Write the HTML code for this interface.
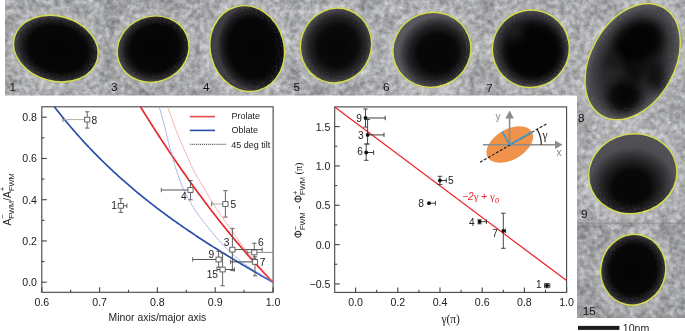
<!DOCTYPE html>
<html><head><meta charset="utf-8"><style>html,body{margin:0;padding:0;background:#fff;overflow:hidden}svg{display:block}</style></head>
<body><svg width="685" height="331" viewBox="0 0 685 331"><defs><filter id="tex" x="0" y="0" width="685" height="331" filterUnits="userSpaceOnUse" color-interpolation-filters="sRGB">
<feTurbulence type="fractalNoise" baseFrequency="0.2" numOctaves="4" seed="5" result="t"/>
<feColorMatrix type="matrix" in="t" result="g" values="0.42 0 0 0 0.475  0.42 0 0 0 0.48  0.42 0 0 0 0.49  0 0 0 0 1"/>
<feTurbulence type="fractalNoise" baseFrequency="0.05" numOctaves="2" seed="9" result="t2"/>
<feColorMatrix type="matrix" in="t2" result="g2" values="0 0 0 0 0  0 0 0 0 0  0 0 0 0 0  0.35 0 0 0 -0.12"/>
<feComposite in="g2" in2="g" operator="over" result="c"/>
<feGaussianBlur in="c" stdDeviation="0.5"/>
</filter><filter id="hb" x="-20%" y="-20%" width="140%" height="140%" color-interpolation-filters="sRGB"><feGaussianBlur stdDeviation="2.2"/></filter><clipPath id="micro"><rect x="5" y="0" width="572" height="95.5"/><rect x="577" y="0" width="108" height="318"/></clipPath><radialGradient id="g1" cx="0.53" cy="0.5" r="0.5" fx="0.53" fy="0.5"><stop offset="0" stop-color="#040404"/><stop offset="0.7" stop-color="#070707"/><stop offset="0.86" stop-color="#1a1a1c"/><stop offset="0.95" stop-color="#2c2c30"/><stop offset="1" stop-color="#3a3a40"/></radialGradient><radialGradient id="g3" cx="0.54" cy="0.5" r="0.5" fx="0.54" fy="0.5"><stop offset="0" stop-color="#040404"/><stop offset="0.7" stop-color="#070707"/><stop offset="0.86" stop-color="#1a1a1c"/><stop offset="0.95" stop-color="#2c2c30"/><stop offset="1" stop-color="#3a3a40"/></radialGradient><radialGradient id="g4" cx="0.52" cy="0.4" r="0.5" fx="0.52" fy="0.4"><stop offset="0" stop-color="#040404"/><stop offset="0.7" stop-color="#070707"/><stop offset="0.86" stop-color="#1a1a1c"/><stop offset="0.95" stop-color="#2c2c30"/><stop offset="1" stop-color="#3a3a40"/></radialGradient><radialGradient id="g5" cx="0.5" cy="0.52" r="0.5" fx="0.5" fy="0.52"><stop offset="0" stop-color="#050505"/><stop offset="0.55" stop-color="#0a0a0a"/><stop offset="0.8" stop-color="#242426"/><stop offset="0.95" stop-color="#3e3e42"/><stop offset="1" stop-color="#4c4c52"/></radialGradient><radialGradient id="g6" cx="0.55" cy="0.57" r="0.5" fx="0.55" fy="0.57"><stop offset="0" stop-color="#050505"/><stop offset="0.5" stop-color="#080808"/><stop offset="0.72" stop-color="#202022"/><stop offset="0.88" stop-color="#3c3c40"/><stop offset="1" stop-color="#56565c"/></radialGradient><radialGradient id="g7" cx="0.5" cy="0.5" r="0.5" fx="0.5" fy="0.5"><stop offset="0" stop-color="#141416"/><stop offset="0.6" stop-color="#1c1c1e"/><stop offset="0.86" stop-color="#323236"/><stop offset="1" stop-color="#48484e"/></radialGradient><radialGradient id="g8" cx="0.5" cy="0.5" r="0.5" fx="0.5" fy="0.5"><stop offset="0" stop-color="#262628"/><stop offset="0.6" stop-color="#2c2c2e"/><stop offset="0.85" stop-color="#404044"/><stop offset="1" stop-color="#5a5a60"/></radialGradient><radialGradient id="g9" cx="0.45" cy="0.66" r="0.5" fx="0.45" fy="0.66"><stop offset="0" stop-color="#050505"/><stop offset="0.42" stop-color="#080808"/><stop offset="0.68" stop-color="#242426"/><stop offset="0.88" stop-color="#3e3e42"/><stop offset="1" stop-color="#4e4e54"/></radialGradient><radialGradient id="g15" cx="0.5" cy="0.5" r="0.5" fx="0.5" fy="0.5"><stop offset="0" stop-color="#040404"/><stop offset="0.7" stop-color="#070707"/><stop offset="0.86" stop-color="#1a1a1c"/><stop offset="0.95" stop-color="#2c2c30"/><stop offset="1" stop-color="#3a3a40"/></radialGradient><filter id="blot" x="0" y="0" width="685" height="331" filterUnits="userSpaceOnUse" color-interpolation-filters="sRGB">
<feTurbulence type="fractalNoise" baseFrequency="0.045" numOctaves="3" seed="21" result="t"/>
<feColorMatrix type="matrix" in="t" values="0 0 0 0 0.26  0 0 0 0 0.26  0 0 0 0 0.275  2.4 0 0 0 -1.3"/>
</filter><clipPath id="parts"><ellipse cx="632.65" cy="61.6" rx="62.2" ry="42.0" transform="rotate(-60.7 632.65 61.6)"/></clipPath><clipPath id="pc0"><ellipse cx="530.85" cy="48.7" rx="38.92" ry="38.23" transform="rotate(-55.5 530.85 48.7)"/></clipPath><filter id="bf0" filterUnits="userSpaceOnUse" x="0" y="0" width="685" height="331" color-interpolation-filters="sRGB"><feGaussianBlur stdDeviation="4"/></filter><clipPath id="pc1"><ellipse cx="530.85" cy="48.7" rx="38.92" ry="38.23" transform="rotate(-55.5 530.85 48.7)"/></clipPath><filter id="bf1" filterUnits="userSpaceOnUse" x="0" y="0" width="685" height="331" color-interpolation-filters="sRGB"><feGaussianBlur stdDeviation="5"/></filter><clipPath id="pc2"><ellipse cx="632.65" cy="61.6" rx="62.2" ry="42.0" transform="rotate(-60.7 632.65 61.6)"/></clipPath><filter id="bf2" filterUnits="userSpaceOnUse" x="0" y="0" width="685" height="331" color-interpolation-filters="sRGB"><feGaussianBlur stdDeviation="5"/></filter><clipPath id="pc3"><ellipse cx="632.65" cy="61.6" rx="62.2" ry="42.0" transform="rotate(-60.7 632.65 61.6)"/></clipPath><filter id="bf3" filterUnits="userSpaceOnUse" x="0" y="0" width="685" height="331" color-interpolation-filters="sRGB"><feGaussianBlur stdDeviation="5"/></filter><clipPath id="pc4"><ellipse cx="632.65" cy="61.6" rx="62.2" ry="42.0" transform="rotate(-60.7 632.65 61.6)"/></clipPath><filter id="bf4" filterUnits="userSpaceOnUse" x="0" y="0" width="685" height="331" color-interpolation-filters="sRGB"><feGaussianBlur stdDeviation="5"/></filter><clipPath id="pc5"><ellipse cx="632.65" cy="61.6" rx="62.2" ry="42.0" transform="rotate(-60.7 632.65 61.6)"/></clipPath><filter id="bf5" filterUnits="userSpaceOnUse" x="0" y="0" width="685" height="331" color-interpolation-filters="sRGB"><feGaussianBlur stdDeviation="4"/></filter><clipPath id="pc6"><ellipse cx="632.65" cy="61.6" rx="62.2" ry="42.0" transform="rotate(-60.7 632.65 61.6)"/></clipPath><filter id="bf6" filterUnits="userSpaceOnUse" x="0" y="0" width="685" height="331" color-interpolation-filters="sRGB"><feGaussianBlur stdDeviation="4"/></filter><filter id="grain" x="0" y="0" width="685" height="331" filterUnits="userSpaceOnUse" color-interpolation-filters="sRGB">
<feTurbulence type="fractalNoise" baseFrequency="0.5" numOctaves="2" seed="33" result="t"/>
<feColorMatrix type="matrix" in="t" result="a" values="0 0 0 0 0.45  0 0 0 0 0.45  0 0 0 0 0.47  1.3 0 0 0 -0.5"/>
<feGaussianBlur in="a" stdDeviation="0.35"/>
</filter><clipPath id="allparts"><ellipse cx="55.85" cy="48.6" rx="42.96" ry="32.5" transform="rotate(14.9 55.85 48.6)"/><ellipse cx="153.1" cy="49.15" rx="36.36" ry="32.65" transform="rotate(-21.1 153.1 49.15)"/><ellipse cx="247.2" cy="48.55" rx="43.24" ry="36.85" transform="rotate(75.2 247.2 48.55)"/><ellipse cx="336.0" cy="45.55" rx="37.67" ry="35.26" transform="rotate(-68.4 336.0 45.55)"/><ellipse cx="431.9" cy="49.8" rx="39.26" ry="37.23" transform="rotate(-21.3 431.9 49.8)"/><ellipse cx="530.85" cy="48.7" rx="38.92" ry="38.23" transform="rotate(-55.5 530.85 48.7)"/><ellipse cx="632.65" cy="61.6" rx="62.2" ry="42.0" transform="rotate(-60.7 632.65 61.6)"/><ellipse cx="632.8" cy="173.7" rx="44.31" ry="39.7" transform="rotate(-12.2 632.8 173.7)"/><ellipse cx="633.25" cy="269.75" rx="35.47" ry="32.42" transform="rotate(-78.4 633.25 269.75)"/></clipPath><radialGradient id="hm" cx="0.5" cy="0.5" r="0.5"><stop offset="0" stop-color="#000"/><stop offset="0.68" stop-color="#000"/><stop offset="0.92" stop-color="#fff"/><stop offset="1" stop-color="#fff"/></radialGradient><mask id="halomask" maskUnits="userSpaceOnUse" x="0" y="0" width="685" height="331"><rect x="0" y="0" width="685" height="331" fill="#000"/><ellipse cx="55.85" cy="48.6" rx="42.96" ry="32.5" transform="rotate(14.9 55.85 48.6)" fill="url(#hm)"/><ellipse cx="153.1" cy="49.15" rx="36.36" ry="32.65" transform="rotate(-21.1 153.1 49.15)" fill="url(#hm)"/><ellipse cx="247.2" cy="48.55" rx="43.24" ry="36.85" transform="rotate(75.2 247.2 48.55)" fill="url(#hm)"/><ellipse cx="336.0" cy="45.55" rx="37.67" ry="35.26" transform="rotate(-68.4 336.0 45.55)" fill="url(#hm)"/><ellipse cx="431.9" cy="49.8" rx="39.26" ry="37.23" transform="rotate(-21.3 431.9 49.8)" fill="url(#hm)"/><ellipse cx="530.85" cy="48.7" rx="38.92" ry="38.23" transform="rotate(-55.5 530.85 48.7)" fill="url(#hm)"/><ellipse cx="632.65" cy="61.6" rx="62.2" ry="42.0" transform="rotate(-60.7 632.65 61.6)" fill="url(#hm)"/><ellipse cx="632.8" cy="173.7" rx="44.31" ry="39.7" transform="rotate(-12.2 632.8 173.7)" fill="url(#hm)"/><ellipse cx="633.25" cy="269.75" rx="35.47" ry="32.42" transform="rotate(-78.4 633.25 269.75)" fill="url(#hm)"/></mask></defs><rect width="685" height="331" fill="#fff"/><g clip-path="url(#micro)"><rect x="0" y="0" width="685" height="331" fill="#b8b9bb" filter="url(#tex)"/></g><rect x="107.5" y="0" width="92.5" height="95.5" fill="#000" opacity="0.02"/><rect x="200" y="0" width="90" height="95.5" fill="#fff" opacity="0.07"/><rect x="380" y="0" width="101" height="95.5" fill="#fff" opacity="0.06"/><rect x="481" y="0" width="96" height="95.5" fill="#fff" opacity="0.03"/><rect x="577" y="0" width="108" height="125" fill="#fff" opacity="0.05"/><rect x="577" y="125" width="108" height="98" fill="#fff" opacity="0.05"/><rect x="577" y="223" width="108" height="95" fill="#000" opacity="0.02"/><g clip-path="url(#micro)"><g filter="url(#hb)"><ellipse cx="55.85" cy="48.6" rx="46.46" ry="36.0" transform="rotate(14.9 55.85 48.6)" fill="none" stroke="#fff" stroke-width="5" opacity="0.22"/><ellipse cx="153.1" cy="49.15" rx="39.86" ry="36.15" transform="rotate(-21.1 153.1 49.15)" fill="none" stroke="#fff" stroke-width="5" opacity="0.22"/><ellipse cx="247.2" cy="48.55" rx="46.74" ry="40.35" transform="rotate(75.2 247.2 48.55)" fill="none" stroke="#fff" stroke-width="5" opacity="0.22"/><ellipse cx="336.0" cy="45.55" rx="41.17" ry="38.76" transform="rotate(-68.4 336.0 45.55)" fill="none" stroke="#fff" stroke-width="5" opacity="0.22"/><ellipse cx="431.9" cy="49.8" rx="42.76" ry="40.73" transform="rotate(-21.3 431.9 49.8)" fill="none" stroke="#fff" stroke-width="5" opacity="0.22"/><ellipse cx="530.85" cy="48.7" rx="42.42" ry="41.73" transform="rotate(-55.5 530.85 48.7)" fill="none" stroke="#fff" stroke-width="5" opacity="0.22"/><ellipse cx="632.65" cy="61.6" rx="65.7" ry="45.5" transform="rotate(-60.7 632.65 61.6)" fill="none" stroke="#fff" stroke-width="5" opacity="0.22"/><ellipse cx="632.8" cy="173.7" rx="47.81" ry="43.2" transform="rotate(-12.2 632.8 173.7)" fill="none" stroke="#fff" stroke-width="5" opacity="0.22"/><ellipse cx="633.25" cy="269.75" rx="38.97" ry="35.92" transform="rotate(-78.4 633.25 269.75)" fill="none" stroke="#fff" stroke-width="5" opacity="0.22"/></g></g><line x1="577" y1="223" x2="685" y2="223" stroke="#777" stroke-width="1" opacity="0.5"/><ellipse cx="55.85" cy="48.6" rx="42.96" ry="32.5" transform="rotate(14.9 55.85 48.6)" fill="url(#g1)"/><ellipse cx="153.1" cy="49.15" rx="36.36" ry="32.65" transform="rotate(-21.1 153.1 49.15)" fill="url(#g3)"/><ellipse cx="247.2" cy="48.55" rx="43.24" ry="36.85" transform="rotate(75.2 247.2 48.55)" fill="url(#g4)"/><ellipse cx="336.0" cy="45.55" rx="37.67" ry="35.26" transform="rotate(-68.4 336.0 45.55)" fill="url(#g5)"/><ellipse cx="431.9" cy="49.8" rx="39.26" ry="37.23" transform="rotate(-21.3 431.9 49.8)" fill="url(#g6)"/><ellipse cx="530.85" cy="48.7" rx="38.92" ry="38.23" transform="rotate(-55.5 530.85 48.7)" fill="url(#g7)"/><ellipse cx="632.65" cy="61.6" rx="62.2" ry="42.0" transform="rotate(-60.7 632.65 61.6)" fill="url(#g8)"/><ellipse cx="632.8" cy="173.7" rx="44.31" ry="39.7" transform="rotate(-12.2 632.8 173.7)" fill="url(#g9)"/><ellipse cx="633.25" cy="269.75" rx="35.47" ry="32.42" transform="rotate(-78.4 633.25 269.75)" fill="url(#g15)"/><g clip-path="url(#parts)"><rect x="0" y="0" width="685" height="331" fill="#333" filter="url(#blot)"/></g><g clip-path="url(#pc0)"><ellipse cx="534" cy="52" rx="30" ry="29" transform="rotate(0 534 52)" fill="#040404" filter="url(#bf0)"/></g><g clip-path="url(#pc1)"><ellipse cx="514" cy="32" rx="9" ry="8" transform="rotate(0 514 32)" fill="#202022" filter="url(#bf1)"/></g><g clip-path="url(#pc2)"><ellipse cx="638" cy="44" rx="27" ry="22" transform="rotate(-40 638 44)" fill="#040404" filter="url(#bf2)"/></g><g clip-path="url(#pc3)"><ellipse cx="624" cy="96" rx="17" ry="17" transform="rotate(0 624 96)" fill="#070707" filter="url(#bf3)"/></g><g clip-path="url(#pc4)"><ellipse cx="654" cy="74" rx="10" ry="18" transform="rotate(-20 654 74)" fill="#121214" filter="url(#bf4)"/></g><g clip-path="url(#pc5)"><ellipse cx="613" cy="62" rx="9" ry="9" transform="rotate(0 613 62)" fill="#1a1a1a" filter="url(#bf5)"/></g><g clip-path="url(#pc6)"><ellipse cx="634" cy="72" rx="9" ry="12" transform="rotate(0 634 72)" fill="#0c0c0c" filter="url(#bf6)"/></g><g clip-path="url(#allparts)" mask="url(#halomask)" opacity="0.55"><rect x="0" y="0" width="685" height="331" fill="#888" filter="url(#grain)"/></g><ellipse cx="55.85" cy="48.6" rx="42.96" ry="32.5" transform="rotate(14.9 55.85 48.6)" fill="none" stroke="#d6dc4c" stroke-width="1.45"/><ellipse cx="153.1" cy="49.15" rx="36.36" ry="32.65" transform="rotate(-21.1 153.1 49.15)" fill="none" stroke="#d6dc4c" stroke-width="1.45"/><ellipse cx="247.2" cy="48.55" rx="43.24" ry="36.85" transform="rotate(75.2 247.2 48.55)" fill="none" stroke="#d6dc4c" stroke-width="1.45"/><ellipse cx="336.0" cy="45.55" rx="37.67" ry="35.26" transform="rotate(-68.4 336.0 45.55)" fill="none" stroke="#d6dc4c" stroke-width="1.45"/><ellipse cx="431.9" cy="49.8" rx="39.26" ry="37.23" transform="rotate(-21.3 431.9 49.8)" fill="none" stroke="#d6dc4c" stroke-width="1.45"/><ellipse cx="530.85" cy="48.7" rx="38.92" ry="38.23" transform="rotate(-55.5 530.85 48.7)" fill="none" stroke="#d6dc4c" stroke-width="1.45"/><ellipse cx="632.65" cy="61.6" rx="62.2" ry="42.0" transform="rotate(-60.7 632.65 61.6)" fill="none" stroke="#d6dc4c" stroke-width="1.45"/><ellipse cx="632.8" cy="173.7" rx="44.31" ry="39.7" transform="rotate(-12.2 632.8 173.7)" fill="none" stroke="#d6dc4c" stroke-width="1.45"/><ellipse cx="633.25" cy="269.75" rx="35.47" ry="32.42" transform="rotate(-78.4 633.25 269.75)" fill="none" stroke="#d6dc4c" stroke-width="1.45"/><text x="9.5" y="90.6" font-size="11.7" fill="#111" font-family="Liberation Sans, Arial, sans-serif">1</text><text x="111.0" y="90.6" font-size="11.7" fill="#111" font-family="Liberation Sans, Arial, sans-serif">3</text><text x="203.0" y="90.6" font-size="11.7" fill="#111" font-family="Liberation Sans, Arial, sans-serif">4</text><text x="293.5" y="90.6" font-size="11.7" fill="#111" font-family="Liberation Sans, Arial, sans-serif">5</text><text x="383.0" y="90.6" font-size="11.7" fill="#111" font-family="Liberation Sans, Arial, sans-serif">6</text><text x="486.2" y="91.6" font-size="11.7" fill="#111" font-family="Liberation Sans, Arial, sans-serif">7</text><text x="578.0" y="122.1" font-size="11.7" fill="#111" font-family="Liberation Sans, Arial, sans-serif">8</text><text x="581.1" y="217.7" font-size="11.7" fill="#111" font-family="Liberation Sans, Arial, sans-serif">9</text><text x="582.8" y="315.1" font-size="11.7" fill="#111" font-family="Liberation Sans, Arial, sans-serif">15</text><rect x="578" y="325.9" width="41.4" height="4" fill="#1c1c1c"/><text x="622.8" y="331.8" font-size="10.6" fill="#222" font-family="Liberation Sans, Arial, sans-serif">10nm</text><rect x="41.8" y="106.8" width="231.3" height="185.5" fill="none" stroke="#444" stroke-width="1.1"/><line x1="41.8" y1="282.20" x2="46.8" y2="282.20" stroke="#444" stroke-width="1.1"/><text x="37.0" y="286.10" font-size="10.6" fill="#222" text-anchor="end" font-family="Liberation Sans, Arial, sans-serif">0.0</text><line x1="41.8" y1="261.57" x2="44.4" y2="261.57" stroke="#444" stroke-width="1.1"/><line x1="41.8" y1="240.95" x2="46.8" y2="240.95" stroke="#444" stroke-width="1.1"/><text x="37.0" y="244.85" font-size="10.6" fill="#222" text-anchor="end" font-family="Liberation Sans, Arial, sans-serif">0.2</text><line x1="41.8" y1="220.32" x2="44.4" y2="220.32" stroke="#444" stroke-width="1.1"/><line x1="41.8" y1="199.70" x2="46.8" y2="199.70" stroke="#444" stroke-width="1.1"/><text x="37.0" y="203.60" font-size="10.6" fill="#222" text-anchor="end" font-family="Liberation Sans, Arial, sans-serif">0.4</text><line x1="41.8" y1="179.07" x2="44.4" y2="179.07" stroke="#444" stroke-width="1.1"/><line x1="41.8" y1="158.45" x2="46.8" y2="158.45" stroke="#444" stroke-width="1.1"/><text x="37.0" y="162.35" font-size="10.6" fill="#222" text-anchor="end" font-family="Liberation Sans, Arial, sans-serif">0.6</text><line x1="41.8" y1="137.82" x2="44.4" y2="137.82" stroke="#444" stroke-width="1.1"/><line x1="41.8" y1="117.20" x2="46.8" y2="117.20" stroke="#444" stroke-width="1.1"/><text x="37.0" y="121.10" font-size="10.6" fill="#222" text-anchor="end" font-family="Liberation Sans, Arial, sans-serif">0.8</text><line x1="41.80" y1="292.3" x2="41.80" y2="287.3" stroke="#444" stroke-width="1.1"/><text x="41.80" y="305.8" font-size="10.6" fill="#222" text-anchor="middle" font-family="Liberation Sans, Arial, sans-serif">0.6</text><line x1="70.70" y1="292.3" x2="70.70" y2="289.7" stroke="#444" stroke-width="1.1"/><line x1="99.60" y1="292.3" x2="99.60" y2="287.3" stroke="#444" stroke-width="1.1"/><text x="99.60" y="305.8" font-size="10.6" fill="#222" text-anchor="middle" font-family="Liberation Sans, Arial, sans-serif">0.7</text><line x1="128.50" y1="292.3" x2="128.50" y2="289.7" stroke="#444" stroke-width="1.1"/><line x1="157.40" y1="292.3" x2="157.40" y2="287.3" stroke="#444" stroke-width="1.1"/><text x="157.40" y="305.8" font-size="10.6" fill="#222" text-anchor="middle" font-family="Liberation Sans, Arial, sans-serif">0.8</text><line x1="186.30" y1="292.3" x2="186.30" y2="289.7" stroke="#444" stroke-width="1.1"/><line x1="215.20" y1="292.3" x2="215.20" y2="287.3" stroke="#444" stroke-width="1.1"/><text x="215.20" y="305.8" font-size="10.6" fill="#222" text-anchor="middle" font-family="Liberation Sans, Arial, sans-serif">0.9</text><line x1="244.10" y1="292.3" x2="244.10" y2="289.7" stroke="#444" stroke-width="1.1"/><line x1="273.00" y1="292.3" x2="273.00" y2="287.3" stroke="#444" stroke-width="1.1"/><text x="273.00" y="305.8" font-size="10.6" fill="#222" text-anchor="middle" font-family="Liberation Sans, Arial, sans-serif">1.0</text><text x="157.4" y="321.4" font-size="10.4" fill="#222" text-anchor="middle" font-family="Liberation Sans, Arial, sans-serif">Minor axis/major axis</text><text transform="translate(11.3 199.4) rotate(-90)" font-size="10.2" fill="#222" text-anchor="middle" font-family="Liberation Sans, Arial, sans-serif">A<tspan font-size="7.5" dy="-6.4">−</tspan><tspan font-size="7.5" dy="9.0" dx="-4.3">FWM</tspan><tspan dy="-2.6">/A</tspan><tspan font-size="7.5" dy="-6.4">+</tspan><tspan font-size="7.5" dy="9.0" dx="-4.3">FWM</tspan></text><clipPath id="lclip"><rect x="41.8" y="106.8" width="231.3" height="185.5"/></clipPath><g clip-path="url(#lclip)"><polyline points="41.80,89.68 42.96,91.31 44.11,92.92 45.27,94.53 46.42,96.12 47.58,97.69 48.74,99.26 49.89,100.81 51.05,102.36 52.20,103.89 53.36,105.41 54.52,106.92 55.67,108.42 56.83,109.90 57.98,111.38 59.14,112.84 60.30,114.30 61.45,115.74 62.61,117.17 63.76,118.60 64.92,120.01 66.08,121.41 67.23,122.81 68.39,124.19 69.54,125.56 70.70,126.93 71.86,128.28 73.01,129.63 74.17,130.96 75.32,132.29 76.48,133.61 77.64,134.91 78.79,136.21 79.95,137.50 81.10,138.79 82.26,140.06 83.42,141.33 84.57,142.58 85.73,143.83 86.88,145.07 88.04,146.30 89.20,147.53 90.35,148.74 91.51,149.95 92.66,151.15 93.82,152.35 94.98,153.53 96.13,154.71 97.29,155.88 98.44,157.04 99.60,158.20 100.76,159.35 101.91,160.49 103.07,161.63 104.22,162.75 105.38,163.88 106.54,164.99 107.69,166.10 108.85,167.20 110.00,168.29 111.16,169.38 112.32,170.46 113.47,171.54 114.63,172.61 115.78,173.67 116.94,174.73 118.10,175.78 119.25,176.82 120.41,177.86 121.56,178.89 122.72,179.92 123.88,180.94 125.03,181.96 126.19,182.97 127.34,183.97 128.50,184.97 129.66,185.97 130.81,186.96 131.97,187.94 133.12,188.92 134.28,189.89 135.44,190.86 136.59,191.82 137.75,192.78 138.90,193.73 140.06,194.68 141.22,195.62 142.37,196.56 143.53,197.49 144.68,198.42 145.84,199.35 147.00,200.27 148.15,201.18 149.31,202.09 150.46,203.00 151.62,203.90 152.78,204.80 153.93,205.69 155.09,206.58 156.24,207.47 157.40,208.35 158.56,209.22 159.71,210.10 160.87,210.97 162.02,211.83 163.18,212.69 164.34,213.55 165.49,214.40 166.65,215.25 167.80,216.10 168.96,216.94 170.12,217.78 171.27,218.61 172.43,219.45 173.58,220.27 174.74,221.10 175.90,221.92 177.05,222.74 178.21,223.55 179.36,224.36 180.52,225.17 181.68,225.98 182.83,226.78 183.99,227.58 185.14,228.37 186.30,229.17 187.46,229.96 188.61,230.74 189.77,231.53 190.92,232.31 192.08,233.08 193.24,233.86 194.39,234.63 195.55,235.40 196.70,236.17 197.86,236.93 199.02,237.69 200.17,238.45 201.33,239.21 202.48,239.96 203.64,240.71 204.80,241.46 205.95,242.20 207.11,242.95 208.26,243.69 209.42,244.43 210.58,245.16 211.73,245.90 212.89,246.63 214.04,247.36 215.20,248.09 216.36,248.81 217.51,249.53 218.67,250.26 219.82,250.97 220.98,251.69 222.14,252.40 223.29,253.12 224.45,253.83 225.60,254.54 226.76,255.24 227.92,255.95 229.07,256.65 230.23,257.35 231.38,258.05 232.54,258.75 233.70,259.44 234.85,260.14 236.01,260.83 237.16,261.52 238.32,262.21 239.48,262.89 240.63,263.58 241.79,264.26 242.94,264.95 244.10,265.63 245.26,266.31 246.41,266.98 247.57,267.66 248.72,268.33 249.88,269.01 251.04,269.68 252.19,270.35 253.35,271.02 254.50,271.69 255.66,272.35 256.82,273.02 257.97,273.68 259.13,274.34 260.28,275.00 261.44,275.66 262.60,276.32 263.75,276.98 264.91,277.64 266.06,278.29 267.22,278.95 268.38,279.60 269.53,280.25 270.69,280.90 271.84,281.55 273.00,282.20" fill="none" stroke="#2a4fa8" stroke-width="1.7"/><polyline points="128.50,87.04 129.22,88.25 129.94,89.45 130.67,90.66 131.39,91.86 132.11,93.06 132.83,94.26 133.56,95.45 134.28,96.64 135.00,97.83 135.72,99.02 136.45,100.21 137.17,101.39 137.89,102.57 138.61,103.75 139.34,104.93 140.06,106.10 140.78,107.27 141.50,108.44 142.23,109.61 142.95,110.78 143.67,111.94 144.39,113.10 145.12,114.26 145.84,115.41 146.56,116.56 147.28,117.71 148.01,118.86 148.73,120.01 149.45,121.15 150.18,122.29 150.90,123.43 151.62,124.57 152.34,125.70 153.06,126.83 153.79,127.96 154.51,129.09 155.23,130.22 155.95,131.34 156.68,132.46 157.40,133.58 158.12,134.69 158.84,135.80 159.57,136.92 160.29,138.02 161.01,139.13 161.74,140.23 162.46,141.33 163.18,142.43 163.90,143.53 164.62,144.62 165.35,145.72 166.07,146.81 166.79,147.89 167.52,148.98 168.24,150.06 168.96,151.14 169.68,152.22 170.41,153.29 171.13,154.37 171.85,155.44 172.57,156.51 173.30,157.57 174.02,158.64 174.74,159.70 175.46,160.76 176.19,161.81 176.91,162.87 177.63,163.92 178.35,164.97 179.08,166.02 179.80,167.06 180.52,168.11 181.24,169.15 181.97,170.18 182.69,171.22 183.41,172.25 184.13,173.28 184.86,174.31 185.58,175.34 186.30,176.36 187.02,177.38 187.75,178.40 188.47,179.42 189.19,180.44 189.91,181.45 190.64,182.46 191.36,183.46 192.08,184.47 192.80,185.47 193.53,186.47 194.25,187.47 194.97,188.47 195.69,189.46 196.41,190.45 197.14,191.44 197.86,192.43 198.58,193.41 199.31,194.39 200.03,195.37 200.75,196.35 201.47,197.32 202.19,198.30 202.92,199.27 203.64,200.23 204.36,201.20 205.09,202.16 205.81,203.12 206.53,204.08 207.25,205.04 207.97,205.99 208.70,206.94 209.42,207.89 210.14,208.84 210.87,209.78 211.59,210.72 212.31,211.66 213.03,212.60 213.75,213.53 214.48,214.47 215.20,215.40 215.92,216.32 216.64,217.25 217.37,218.17 218.09,219.09 218.81,220.01 219.53,220.93 220.26,221.84 220.98,222.75 221.70,223.66 222.43,224.57 223.15,225.47 223.87,226.37 224.59,227.27 225.31,228.17 226.04,229.07 226.76,229.96 227.48,230.85 228.20,231.74 228.93,232.62 229.65,233.50 230.37,234.39 231.10,235.26 231.82,236.14 232.54,237.01 233.26,237.88 233.99,238.75 234.71,239.62 235.43,240.49 236.15,241.35 236.88,242.21 237.60,243.06 238.32,243.92 239.04,244.77 239.76,245.62 240.49,246.47 241.21,247.32 241.93,248.16 242.66,249.00 243.38,249.84 244.10,250.67 244.82,251.51 245.55,252.34 246.27,253.17 246.99,254.00 247.71,254.82 248.44,255.64 249.16,256.46 249.88,257.28 250.60,258.10 251.33,258.91 252.05,259.72 252.77,260.53 253.49,261.33 254.22,262.14 254.94,262.94 255.66,263.74 256.38,264.53 257.11,265.33 257.83,266.12 258.55,266.91 259.27,267.69 260.00,268.48 260.72,269.26 261.44,270.04 262.16,270.82 262.89,271.59 263.61,272.37 264.33,273.14 265.05,273.90 265.78,274.67 266.50,275.43 267.22,276.20 267.94,276.95 268.66,277.71 269.39,278.46 270.11,279.22 270.83,279.97 271.56,280.71 272.28,281.46 273.00,282.20" fill="none" stroke="#e8282c" stroke-width="1.7"/><path d="M159.20,106.80 C160.17,110.33 163.12,120.80 165.00,128.00 C166.88,135.20 168.50,142.67 170.50,150.00 C172.50,157.33 174.75,165.33 177.00,172.00 C179.25,178.67 181.00,183.67 184.00,190.00 C187.00,196.33 190.63,203.33 195.00,210.00 C199.37,216.67 205.03,223.67 210.20,230.00 C215.37,236.33 220.70,242.67 226.00,248.00 C231.30,253.33 236.67,257.83 242.00,262.00 C247.33,266.17 252.83,269.63 258.00,273.00 C263.17,276.37 270.50,280.67 273.00,282.20" fill="none" stroke="#8098d6" stroke-width="0.85" stroke-dasharray="1.6 0.5"/><path d="M167.60,106.80 C169.33,111.50 174.43,126.13 178.00,135.00 C181.57,143.87 186.43,154.17 189.00,160.00 C191.57,165.83 190.73,165.00 193.40,170.00 C196.07,175.00 201.23,183.67 205.00,190.00 C208.77,196.33 212.13,202.07 216.00,208.00 C219.87,213.93 223.37,218.77 228.20,225.60 C233.03,232.43 237.53,239.57 245.00,249.00 C252.47,258.43 268.33,276.67 273.00,282.20" fill="none" stroke="#f28c8c" stroke-width="0.85" stroke-dasharray="1.6 0.5"/></g><line x1="189.8" y1="116.6" x2="215" y2="116.6" stroke="#e84a4c" stroke-width="1.6"/><line x1="189.8" y1="130.4" x2="215" y2="130.4" stroke="#2a4fa8" stroke-width="1.6"/><line x1="190.3" y1="144.3" x2="226" y2="144.3" stroke="#222" stroke-width="1.0" stroke-dasharray="1 0.95"/><text x="231.6" y="119.4" font-size="9" fill="#222" font-family="Liberation Sans, Arial, sans-serif">Prolate</text><text x="231.6" y="133.3" font-size="9" fill="#222" font-family="Liberation Sans, Arial, sans-serif">Oblate</text><text x="231.3" y="148" font-size="9" fill="#222" font-family="Liberation Sans, Arial, sans-serif">45 deg tilt</text><line x1="87.2" y1="111.8" x2="87.2" y2="128.1" stroke="#555" stroke-width="0.9"/><line x1="85.0" y1="111.8" x2="89.4" y2="111.8" stroke="#555" stroke-width="0.9"/><line x1="85.0" y1="128.1" x2="89.4" y2="128.1" stroke="#555" stroke-width="0.9"/><line x1="63" y1="119.6" x2="87.2" y2="119.6" stroke="#b0b0b0" stroke-width="1.0"/><line x1="63" y1="117.39999999999999" x2="63" y2="121.8" stroke="#555" stroke-width="0.9"/><rect x="84.60000000000001" y="117.19999999999999" width="5.2" height="4.8" fill="#fff" stroke="#555" stroke-width="0.9"/><text x="91.5" y="123.6" font-size="10.2" fill="#222" font-family="Liberation Sans, Arial, sans-serif">8</text><line x1="120.8" y1="198.6" x2="120.8" y2="212.4" stroke="#555" stroke-width="0.9"/><line x1="118.6" y1="198.6" x2="123.0" y2="198.6" stroke="#555" stroke-width="0.9"/><line x1="118.6" y1="212.4" x2="123.0" y2="212.4" stroke="#555" stroke-width="0.9"/><line x1="118" y1="205.8" x2="126.9" y2="205.8" stroke="#555" stroke-width="1.0"/><line x1="126.9" y1="203.60000000000002" x2="126.9" y2="208.0" stroke="#555" stroke-width="0.9"/><rect x="118.2" y="203.4" width="5.2" height="4.8" fill="#fff" stroke="#555" stroke-width="0.9"/><text x="111.3" y="209.0" font-size="10.2" fill="#222" font-family="Liberation Sans, Arial, sans-serif">1</text><line x1="190.5" y1="180.5" x2="190.5" y2="199.8" stroke="#555" stroke-width="0.9"/><line x1="188.3" y1="180.5" x2="192.7" y2="180.5" stroke="#555" stroke-width="0.9"/><line x1="188.3" y1="199.8" x2="192.7" y2="199.8" stroke="#555" stroke-width="0.9"/><line x1="161.3" y1="190.0" x2="190.5" y2="190.0" stroke="#555" stroke-width="1.0"/><line x1="161.3" y1="187.8" x2="161.3" y2="192.2" stroke="#555" stroke-width="0.9"/><rect x="187.9" y="187.6" width="5.2" height="4.8" fill="#fff" stroke="#555" stroke-width="0.9"/><text x="181.1" y="200.2" font-size="10.2" fill="#222" font-family="Liberation Sans, Arial, sans-serif">4</text><line x1="225.4" y1="190.7" x2="225.4" y2="217.1" stroke="#555" stroke-width="0.9"/><line x1="223.20000000000002" y1="190.7" x2="227.6" y2="190.7" stroke="#555" stroke-width="0.9"/><line x1="223.20000000000002" y1="217.1" x2="227.6" y2="217.1" stroke="#555" stroke-width="0.9"/><line x1="211.7" y1="204.0" x2="225.4" y2="204.0" stroke="#aaa" stroke-width="1.0"/><line x1="211.7" y1="201.8" x2="211.7" y2="206.2" stroke="#555" stroke-width="0.9"/><rect x="222.8" y="201.6" width="5.2" height="4.8" fill="#fff" stroke="#555" stroke-width="0.9"/><text x="230.4" y="207.6" font-size="10.2" fill="#222" font-family="Liberation Sans, Arial, sans-serif">5</text><line x1="232.4" y1="228.3" x2="232.4" y2="270.6" stroke="#555" stroke-width="0.9"/><line x1="230.20000000000002" y1="228.3" x2="234.6" y2="228.3" stroke="#555" stroke-width="0.9"/><line x1="230.20000000000002" y1="270.6" x2="234.6" y2="270.6" stroke="#555" stroke-width="0.9"/><line x1="232.4" y1="249.6" x2="262.2" y2="249.6" stroke="#555" stroke-width="1.0"/><line x1="262.2" y1="247.4" x2="262.2" y2="251.79999999999998" stroke="#555" stroke-width="0.9"/><rect x="229.8" y="247.2" width="5.2" height="4.8" fill="#fff" stroke="#555" stroke-width="0.9"/><text x="223.7" y="246.0" font-size="10.2" fill="#222" font-family="Liberation Sans, Arial, sans-serif">3</text><line x1="254.3" y1="243.2" x2="254.3" y2="259.0" stroke="#555" stroke-width="0.9"/><line x1="252.10000000000002" y1="243.2" x2="256.5" y2="243.2" stroke="#555" stroke-width="0.9"/><line x1="252.10000000000002" y1="259.0" x2="256.5" y2="259.0" stroke="#555" stroke-width="0.9"/><line x1="247.0" y1="252.4" x2="273.1" y2="252.4" stroke="#888" stroke-width="1.0"/><line x1="247.0" y1="250.20000000000002" x2="247.0" y2="254.6" stroke="#555" stroke-width="0.9"/><rect x="251.70000000000002" y="250.0" width="5.2" height="4.8" fill="#fff" stroke="#555" stroke-width="0.9"/><text x="258.0" y="245.9" font-size="10.2" fill="#222" font-family="Liberation Sans, Arial, sans-serif">6</text><line x1="255.0" y1="256.8" x2="255.0" y2="275.8" stroke="#555" stroke-width="0.9"/><line x1="252.8" y1="256.8" x2="257.2" y2="256.8" stroke="#555" stroke-width="0.9"/><line x1="252.8" y1="275.8" x2="257.2" y2="275.8" stroke="#555" stroke-width="0.9"/><line x1="230.4" y1="261.9" x2="255.0" y2="261.9" stroke="#444" stroke-width="1.0"/><line x1="230.4" y1="259.7" x2="230.4" y2="264.09999999999997" stroke="#555" stroke-width="0.9"/><rect x="252.4" y="259.5" width="5.2" height="4.8" fill="#fff" stroke="#555" stroke-width="0.9"/><text x="259.8" y="265.5" font-size="10.2" fill="#222" font-family="Liberation Sans, Arial, sans-serif">7</text><line x1="218.6" y1="251.4" x2="218.6" y2="267.2" stroke="#555" stroke-width="0.9"/><line x1="216.4" y1="251.4" x2="220.79999999999998" y2="251.4" stroke="#555" stroke-width="0.9"/><line x1="216.4" y1="267.2" x2="220.79999999999998" y2="267.2" stroke="#555" stroke-width="0.9"/><line x1="192.7" y1="259.5" x2="218.6" y2="259.5" stroke="#555" stroke-width="1.0"/><line x1="192.7" y1="257.3" x2="192.7" y2="261.7" stroke="#555" stroke-width="0.9"/><rect x="216.0" y="257.1" width="5.2" height="4.8" fill="#fff" stroke="#555" stroke-width="0.9"/><text x="208.5" y="257.6" font-size="10.2" fill="#222" font-family="Liberation Sans, Arial, sans-serif">9</text><line x1="222.6" y1="253.2" x2="222.6" y2="285.8" stroke="#555" stroke-width="0.9"/><line x1="220.4" y1="253.2" x2="224.79999999999998" y2="253.2" stroke="#555" stroke-width="0.9"/><line x1="220.4" y1="285.8" x2="224.79999999999998" y2="285.8" stroke="#555" stroke-width="0.9"/><line x1="217.0" y1="269.5" x2="234.4" y2="269.5" stroke="#555" stroke-width="1.0"/><line x1="217.0" y1="267.3" x2="217.0" y2="271.7" stroke="#555" stroke-width="0.9"/><line x1="234.4" y1="267.3" x2="234.4" y2="271.7" stroke="#555" stroke-width="0.9"/><rect x="220.0" y="267.1" width="5.2" height="4.8" fill="#fff" stroke="#555" stroke-width="0.9"/><text x="206.7" y="277.5" font-size="10.2" fill="#222" font-family="Liberation Sans, Arial, sans-serif">15</text><rect x="334.7" y="106.9" width="231.90000000000003" height="185.49999999999997" fill="none" stroke="#444" stroke-width="1.1"/><line x1="334.7" y1="283.94" x2="339.7" y2="283.94" stroke="#444" stroke-width="1.1"/><text x="330.4" y="287.83" font-size="10.6" fill="#222" text-anchor="end" font-family="Liberation Sans, Arial, sans-serif">−0.5</text><line x1="334.7" y1="264.27" x2="337.3" y2="264.27" stroke="#444" stroke-width="1.1"/><line x1="334.7" y1="244.60" x2="339.7" y2="244.60" stroke="#444" stroke-width="1.1"/><text x="330.4" y="248.50" font-size="10.6" fill="#222" text-anchor="end" font-family="Liberation Sans, Arial, sans-serif">0.0</text><line x1="334.7" y1="224.93" x2="337.3" y2="224.93" stroke="#444" stroke-width="1.1"/><line x1="334.7" y1="205.26" x2="339.7" y2="205.26" stroke="#444" stroke-width="1.1"/><text x="330.4" y="209.16" font-size="10.6" fill="#222" text-anchor="end" font-family="Liberation Sans, Arial, sans-serif">0.5</text><line x1="334.7" y1="185.60" x2="337.3" y2="185.60" stroke="#444" stroke-width="1.1"/><line x1="334.7" y1="165.93" x2="339.7" y2="165.93" stroke="#444" stroke-width="1.1"/><text x="330.4" y="169.83" font-size="10.6" fill="#222" text-anchor="end" font-family="Liberation Sans, Arial, sans-serif">1.0</text><line x1="334.7" y1="146.26" x2="337.3" y2="146.26" stroke="#444" stroke-width="1.1"/><line x1="334.7" y1="126.59" x2="339.7" y2="126.59" stroke="#444" stroke-width="1.1"/><text x="330.4" y="130.50" font-size="10.6" fill="#222" text-anchor="end" font-family="Liberation Sans, Arial, sans-serif">1.5</text><line x1="355.60" y1="292.4" x2="355.60" y2="287.4" stroke="#444" stroke-width="1.1"/><text x="355.60" y="305.8" font-size="10.6" fill="#222" text-anchor="middle" font-family="Liberation Sans, Arial, sans-serif">0.0</text><line x1="376.70" y1="292.4" x2="376.70" y2="289.79999999999995" stroke="#444" stroke-width="1.1"/><line x1="397.80" y1="292.4" x2="397.80" y2="287.4" stroke="#444" stroke-width="1.1"/><text x="397.80" y="305.8" font-size="10.6" fill="#222" text-anchor="middle" font-family="Liberation Sans, Arial, sans-serif">0.2</text><line x1="418.90" y1="292.4" x2="418.90" y2="289.79999999999995" stroke="#444" stroke-width="1.1"/><line x1="440.00" y1="292.4" x2="440.00" y2="287.4" stroke="#444" stroke-width="1.1"/><text x="440.00" y="305.8" font-size="10.6" fill="#222" text-anchor="middle" font-family="Liberation Sans, Arial, sans-serif">0.4</text><line x1="461.10" y1="292.4" x2="461.10" y2="289.79999999999995" stroke="#444" stroke-width="1.1"/><line x1="482.20" y1="292.4" x2="482.20" y2="287.4" stroke="#444" stroke-width="1.1"/><text x="482.20" y="305.8" font-size="10.6" fill="#222" text-anchor="middle" font-family="Liberation Sans, Arial, sans-serif">0.6</text><line x1="503.30" y1="292.4" x2="503.30" y2="289.79999999999995" stroke="#444" stroke-width="1.1"/><line x1="524.40" y1="292.4" x2="524.40" y2="287.4" stroke="#444" stroke-width="1.1"/><text x="524.40" y="305.8" font-size="10.6" fill="#222" text-anchor="middle" font-family="Liberation Sans, Arial, sans-serif">0.8</text><line x1="545.50" y1="292.4" x2="545.50" y2="289.79999999999995" stroke="#444" stroke-width="1.1"/><line x1="566.60" y1="292.4" x2="566.60" y2="287.4" stroke="#444" stroke-width="1.1"/><text x="566.60" y="305.8" font-size="10.6" fill="#222" text-anchor="middle" font-family="Liberation Sans, Arial, sans-serif">1.0</text><text x="450.7" y="322.6" font-size="11.5" fill="#222" text-anchor="middle" font-family="Liberation Serif, serif">γ(π)</text><text transform="translate(302.4 200.4) rotate(-90)" font-size="10.2" fill="#222" text-anchor="middle" font-family="Liberation Sans, Arial, sans-serif">Φ<tspan font-size="7.5" dy="-4.2">−</tspan><tspan font-size="7.5" dy="6.8" dx="-4.3">FWM</tspan><tspan dy="-2.6"> - Φ</tspan><tspan font-size="7.5" dy="-4.2">+</tspan><tspan font-size="7.5" dy="6.8" dx="-4.3">FWM</tspan><tspan dy="-2.6" font-family="Liberation Serif, serif"> (π)</tspan></text><line x1="334.7" y1="106.9" x2="566.6" y2="280.6" stroke="#e8282c" stroke-width="1.3"/><text x="462" y="199.5" font-size="10.2" fill="#e8282c" font-family="Liberation Sans, Arial, sans-serif"><tspan font-style="italic">−2</tspan><tspan font-family="Liberation Serif, serif" font-size="10.8">γ</tspan> + <tspan font-family="Liberation Serif, serif" font-size="10.8">γ</tspan><tspan font-size="8" dy="3" font-style="italic">0</tspan></text><line x1="365.5" y1="109.0" x2="365.5" y2="127.1" stroke="#333" stroke-width="0.9"/><line x1="363.2" y1="109.0" x2="367.8" y2="109.0" stroke="#333" stroke-width="0.9"/><line x1="363.2" y1="127.1" x2="367.8" y2="127.1" stroke="#333" stroke-width="0.9"/><line x1="365.5" y1="118.0" x2="385.2" y2="118.0" stroke="#333" stroke-width="0.95"/><line x1="385.2" y1="115.8" x2="385.2" y2="120.2" stroke="#333" stroke-width="0.95"/><circle cx="365.5" cy="118.0" r="1.9" fill="#111"/><text x="356.3" y="122.2" font-size="10.2" fill="#222" font-family="Liberation Sans, Arial, sans-serif">9</text><line x1="367.6" y1="119.5" x2="367.6" y2="144.0" stroke="#333" stroke-width="0.9"/><line x1="365.3" y1="119.5" x2="369.90000000000003" y2="119.5" stroke="#333" stroke-width="0.9"/><line x1="365.3" y1="144.0" x2="369.90000000000003" y2="144.0" stroke="#333" stroke-width="0.9"/><line x1="367.6" y1="134.9" x2="384.0" y2="134.9" stroke="#333" stroke-width="0.95"/><line x1="384.0" y1="132.70000000000002" x2="384.0" y2="137.1" stroke="#333" stroke-width="0.95"/><circle cx="367.6" cy="134.9" r="1.9" fill="#111"/><text x="358.1" y="139.4" font-size="10.2" fill="#222" font-family="Liberation Sans, Arial, sans-serif">3</text><line x1="366.2" y1="144.0" x2="366.2" y2="160.3" stroke="#333" stroke-width="0.9"/><line x1="363.9" y1="144.0" x2="368.5" y2="144.0" stroke="#333" stroke-width="0.9"/><line x1="363.9" y1="160.3" x2="368.5" y2="160.3" stroke="#333" stroke-width="0.9"/><line x1="366.2" y1="152.5" x2="373.6" y2="152.5" stroke="#333" stroke-width="0.95"/><line x1="373.6" y1="150.3" x2="373.6" y2="154.7" stroke="#333" stroke-width="0.95"/><circle cx="366.2" cy="152.5" r="1.9" fill="#111"/><text x="357.2" y="154.8" font-size="10.2" fill="#222" font-family="Liberation Sans, Arial, sans-serif">6</text><line x1="439.9" y1="176.3" x2="439.9" y2="184.5" stroke="#333" stroke-width="0.9"/><line x1="437.59999999999997" y1="176.3" x2="442.2" y2="176.3" stroke="#333" stroke-width="0.9"/><line x1="437.59999999999997" y1="184.5" x2="442.2" y2="184.5" stroke="#333" stroke-width="0.9"/><line x1="439.9" y1="180.5" x2="446.3" y2="180.5" stroke="#333" stroke-width="0.95"/><line x1="446.3" y1="178.3" x2="446.3" y2="182.7" stroke="#333" stroke-width="0.95"/><circle cx="439.9" cy="180.5" r="1.9" fill="#111"/><text x="448.1" y="184.0" font-size="10.2" fill="#222" font-family="Liberation Sans, Arial, sans-serif">5</text><line x1="427.2" y1="203.2" x2="435.4" y2="203.2" stroke="#333" stroke-width="0.95"/><line x1="435.4" y1="201.0" x2="435.4" y2="205.39999999999998" stroke="#333" stroke-width="0.95"/><circle cx="429.0" cy="203.2" r="1.9" fill="#111"/><text x="418.2" y="206.8" font-size="10.2" fill="#222" font-family="Liberation Sans, Arial, sans-serif">8</text><line x1="479.5" y1="219.8" x2="479.5" y2="223.8" stroke="#333" stroke-width="0.9"/><line x1="477.2" y1="219.8" x2="481.8" y2="219.8" stroke="#333" stroke-width="0.9"/><line x1="477.2" y1="223.8" x2="481.8" y2="223.8" stroke="#333" stroke-width="0.9"/><line x1="479.5" y1="221.7" x2="486.4" y2="221.7" stroke="#333" stroke-width="0.95"/><line x1="486.4" y1="219.5" x2="486.4" y2="223.89999999999998" stroke="#333" stroke-width="0.95"/><circle cx="479.5" cy="221.7" r="1.9" fill="#111"/><text x="469.0" y="225.5" font-size="10.2" fill="#222" font-family="Liberation Sans, Arial, sans-serif">4</text><line x1="503.3" y1="213.2" x2="503.3" y2="248.3" stroke="#333" stroke-width="0.9"/><line x1="501.0" y1="213.2" x2="505.6" y2="213.2" stroke="#333" stroke-width="0.9"/><line x1="501.0" y1="248.3" x2="505.6" y2="248.3" stroke="#333" stroke-width="0.9"/><line x1="503.3" y1="230.8" x2="505.5" y2="230.8" stroke="#333" stroke-width="0.95"/><line x1="505.5" y1="228.60000000000002" x2="505.5" y2="233.0" stroke="#333" stroke-width="0.95"/><circle cx="503.3" cy="230.8" r="1.9" fill="#111"/><text x="492.3" y="237.1" font-size="10.2" fill="#222" font-family="Liberation Sans, Arial, sans-serif">7</text><line x1="547.0" y1="283.5" x2="547.0" y2="287.7" stroke="#333" stroke-width="0.9"/><line x1="544.7" y1="283.5" x2="549.3" y2="283.5" stroke="#333" stroke-width="0.9"/><line x1="544.7" y1="287.7" x2="549.3" y2="287.7" stroke="#333" stroke-width="0.9"/><line x1="544.6" y1="285.6" x2="549.8" y2="285.6" stroke="#333" stroke-width="0.95"/><line x1="544.6" y1="283.40000000000003" x2="544.6" y2="287.8" stroke="#333" stroke-width="0.95"/><line x1="549.8" y1="283.40000000000003" x2="549.8" y2="287.8" stroke="#333" stroke-width="0.95"/><circle cx="547.0" cy="285.6" r="1.9" fill="#111"/><text x="536.1" y="287.7" font-size="10.2" fill="#222" font-family="Liberation Sans, Arial, sans-serif">1</text><ellipse cx="509.8" cy="144.5" rx="25.5" ry="15.2" transform="rotate(-30 509.8 144.5)" fill="#f0924a"/><line x1="483" y1="144.8" x2="556" y2="144.8" stroke="#8c8c8c" stroke-width="1.6"/><polygon points="562.5,144.8 555,140.6 555,149" fill="#8c8c8c"/><line x1="509.6" y1="144.8" x2="509.6" y2="118" stroke="#8c8c8c" stroke-width="1.6"/><polygon points="509.6,110.6 505.4,118.5 513.8,118.5" fill="#8c8c8c"/><line x1="480" y1="162.3" x2="547.6" y2="123.2" stroke="#1a1a1a" stroke-width="1.1" stroke-dasharray="3 1.6"/><line x1="509.6" y1="144.8" x2="532.6" y2="131.7" stroke="#3a9ad0" stroke-width="1.6"/><line x1="509.6" y1="144.8" x2="502.2" y2="131.7" stroke="#3a9ad0" stroke-width="1.6"/><path d="M541.30,144.80 A31.7,31.7 0 0 0 537.05,128.95" fill="none" stroke="#111" stroke-width="1.1"/><text x="542.6" y="139.2" font-size="11.5" fill="#222" font-family="Liberation Serif, serif">γ</text><text x="556.6" y="155.8" font-size="10" fill="#888" font-family="Liberation Sans, Arial, sans-serif">x</text><text x="495.6" y="119.8" font-size="10" fill="#888" font-family="Liberation Sans, Arial, sans-serif">y</text></svg></body></html>
